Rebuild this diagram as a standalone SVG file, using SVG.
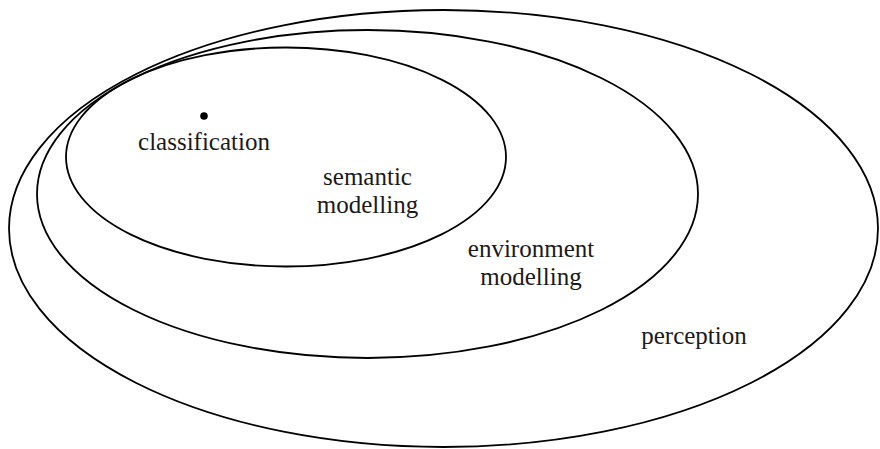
<svg xmlns="http://www.w3.org/2000/svg" width="880" height="449" viewBox="0 0 880 449">
<style>
.set{fill:none;stroke:#000;stroke-width:1.8}
.lbl{font-family:"Liberation Serif","DejaVu Serif",serif;font-size:25px;fill:#1a1a1a;text-anchor:middle}
</style>
<rect width="880" height="449" fill="#fff"/>
<g id="perception">
<ellipse class="set" cx="443.5" cy="228.5" rx="434.5" ry="218.5"/>
<text class="lbl" x="694" y="344">perception</text>
</g>
<g id="environment-modelling">
<ellipse class="set" cx="367.5" cy="194" rx="330.5" ry="164"/>
<text class="lbl" x="531" y="257">environment</text>
<text class="lbl" x="531" y="285">modelling</text>
</g>
<g id="semantic-modelling">
<ellipse class="set" cx="286" cy="157" rx="220" ry="109.5"/>
<text class="lbl" x="367.5" y="185">semantic</text>
<text class="lbl" x="367.5" y="213">modelling</text>
</g>
<g id="classification">
<circle cx="204" cy="116" r="3.8" fill="#000"/>
<text class="lbl" x="204" y="150">classification</text>
</g>
<g id="connectors"/>
</svg>
